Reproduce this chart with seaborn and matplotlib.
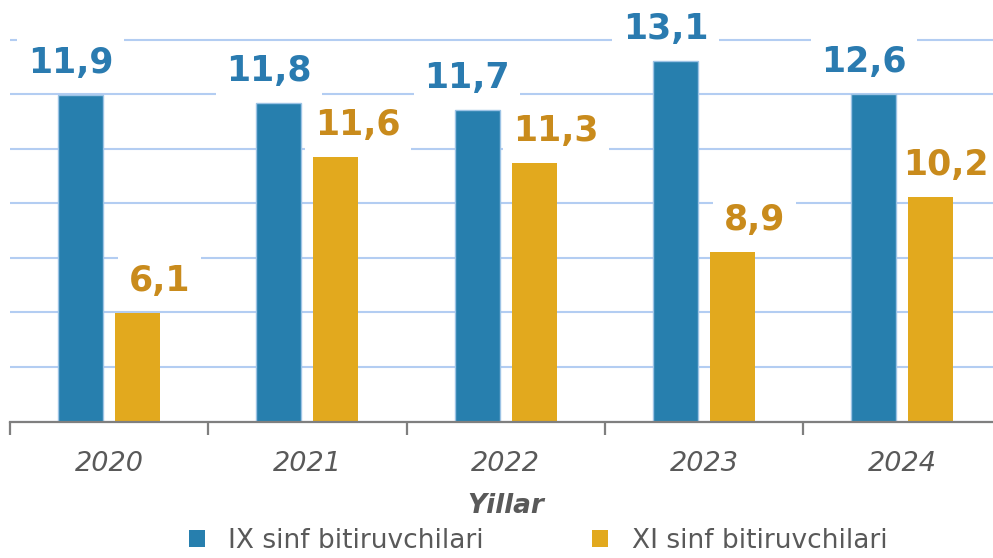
import pandas as pd
import matplotlib
matplotlib.use("Agg")
import matplotlib.pyplot as plt
import seaborn as sns

yillar = ["2020", "2021", "2022", "2023", "2024"]
guruhlar = ["IX sinf bitiruvchilari", "XI sinf bitiruvchilari"]

# bar heights as drawn in the picture
ix_bar = [11.97, 11.67, 11.43, 13.21, 11.99]
xi_bar = [3.97, 9.71, 9.49, 6.22, 8.22]

# value labels as printed on the chart
ix_label = ["11,9", "11,8", "11,7", "13,1", "12,6"]
xi_label = ["6,1", "11,6", "11,3", "8,9", "10,2"]

df = pd.DataFrame({
    "Yil": yillar * 2,
    "Guruh": [guruhlar[0]] * 5 + [guruhlar[1]] * 5,
    "Qiymat": ix_bar + xi_bar,
})

blue = "#277fae"
yellow = "#e2a91e"
blue_txt = "#2a7bb0"
yellow_txt = "#c98b1c"
grey = "#595959"

sns.set_style("white")
plt.rcParams["font.family"] = ["DejaVu Sans"]

fig = plt.figure(figsize=(9.93, 5.58), dpi=100)
ax = fig.add_axes([10 / 993, 1 - 421.5 / 558, 991.5 / 993, 421.5 / 558])

sns.barplot(data=df, x="Yil", y="Qiymat", hue="Guruh", palette=[blue, yellow],
            width=0.575, gap=0.21, ax=ax, saturation=1, zorder=2)

# edges: light outline on blue bars only
for bar in ax.containers[0]:
    bar.set_edgecolor("#9cc3e5")
    bar.set_linewidth(1)
for bar in ax.containers[1]:
    bar.set_edgecolor("none")

ax.set_ylim(0, 421.5 / 27.28)
ax.set_xlim(-0.5, 4.5)
ax.set_yticks(range(0, 15, 2))
ax.set_yticklabels([])
ax.tick_params(axis="y", length=0)
ax.yaxis.grid(True, color="#b3cdf2", linewidth=1.5, zorder=0)
ax.set_axisbelow(True)

for s in ["top", "right", "left"]:
    ax.spines[s].set_visible(False)
ax.spines["bottom"].set_color("#7f7f7f")
ax.spines["bottom"].set_linewidth(1.6)

ax.set_xticks(range(5))
ax.set_xticks([i - 0.5 for i in range(6)], minor=True)
ax.tick_params(axis="x", which="major", bottom=True, length=0, pad=21,
               labelsize=19.5, labelcolor=grey)
ax.tick_params(axis="x", which="minor", bottom=True, length=9, width=1.6,
               color="#7f7f7f", direction="out")
for t in ax.get_xticklabels():
    t.set_fontstyle("italic")

ax.set_xlabel("Yillar", fontsize=19, fontweight="bold", fontstyle="italic", color=grey, labelpad=12)
ax.set_ylabel("")

# value labels with white boxes (small sideways shifts like the original)
# zorder between grid and bars so the boxes hide grid lines but not bars
ix_dx = [-10, -10, -10, -10, -10]
xi_dx = [22, 22, 22, 22, 15]
for cont, labels, col, shifts in [(ax.containers[0], ix_label, blue_txt, ix_dx),
                                   (ax.containers[1], xi_label, yellow_txt, xi_dx)]:
    for bar, lab, dx in zip(cont, labels, shifts):
        x = bar.get_x() + bar.get_width() / 2
        ax.annotate(lab, (x, bar.get_height()), xytext=(dx, 32), textcoords="offset pixels",
                    ha="center", va="center", fontsize=25, fontweight="bold", color=col,
                    bbox=dict(boxstyle="square,pad=0.3", fc="white", ec="none"),
                    zorder=1.5, annotation_clip=False)

ax.get_legend().remove()
handles = [plt.Rectangle((0, 0), 1, 1, fc=blue, ec="none"),
           plt.Rectangle((0, 0), 1, 1, fc=yellow, ec="none")]
leg = fig.legend(handles, guruhlar, loc="center", bbox_to_anchor=(538 / 993, 1 - 541 / 558),
                 ncol=2, frameon=False, fontsize=19, handlelength=0.6, handleheight=0.6,
                 handletextpad=0.9, columnspacing=4.1, labelcolor=grey)

fig.savefig("out.png", dpi=100)
